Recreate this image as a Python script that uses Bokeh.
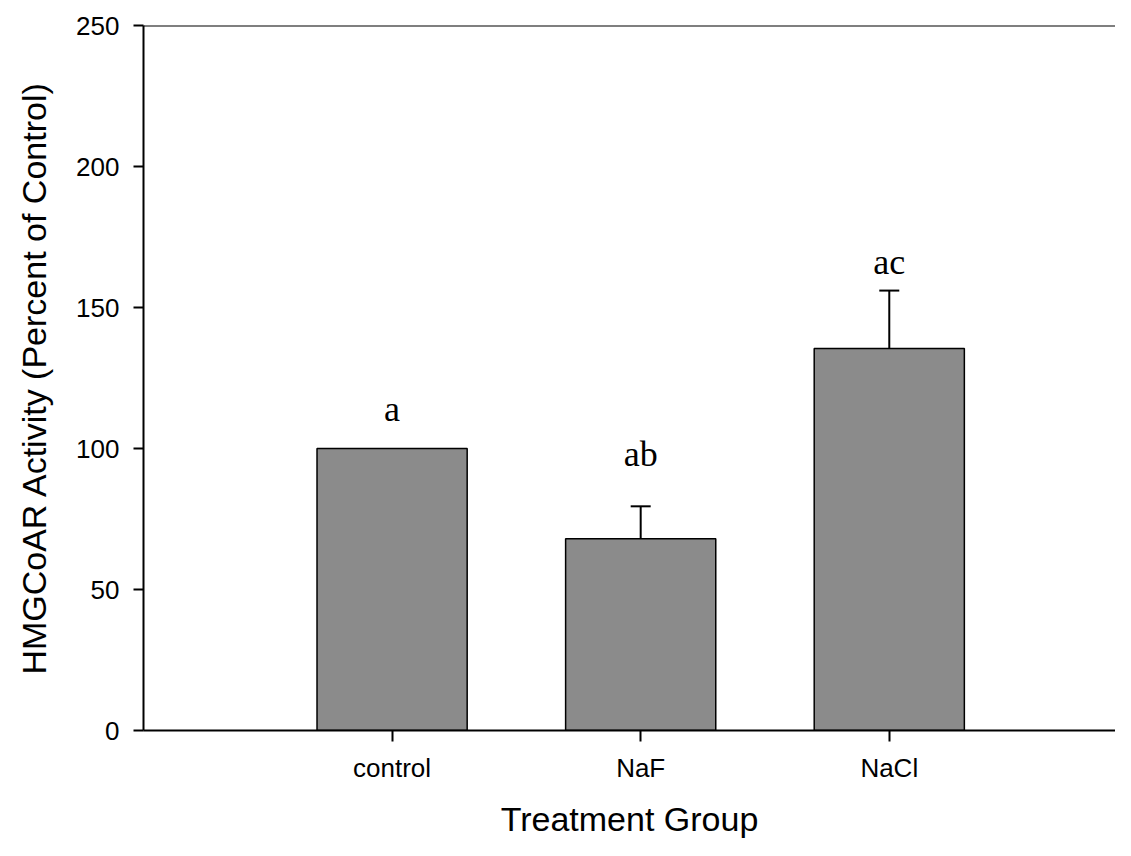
from bokeh.plotting import figure
from bokeh.models import FixedTicker, Span, Whisker, ColumnDataSource, TeeHead
from bokeh.core.properties import value
from bokeh.embed import file_html
from bokeh.resources import INLINE

groups = ["control", "NaF", "NaCl"]
means = [100, 68, 135.5]
errors = [0, 11.5, 20.5]
letters = ["a", "ab", "ac"]
letter_y = [114, 98, 166]
y_ticks = [0, 50, 100, 150, 200, 250]

xs = [1, 2, 3]

p = figure(width=1115, height=840, x_range=(0, 3.91), y_range=(0, 250),
           output_backend="svg", toolbar_location=None,
           min_border_left=143, min_border_right=0, min_border_top=25, min_border_bottom=105)
p.outline_line_color = None
p.xgrid.grid_line_color = None
p.ygrid.grid_line_color = None

p.vbar(x=xs, top=means, bottom=0, width=0.604, fill_color="#8b8b8b",
       line_color="black", line_width=1.5)

err_idx = [i for i, e in enumerate(errors) if e > 0]
src = ColumnDataSource(dict(
    x=[xs[i] for i in err_idx],
    lower=[means[i] for i in err_idx],
    upper=[means[i] + errors[i] for i in err_idx],
))
w = Whisker(base="x", lower="lower", upper="upper", source=src,
            upper_head=TeeHead(size=20, line_width=2, line_color="black"),
            lower_head=None, line_width=2, line_color="black")
p.add_layout(w)

p.text(x=xs, y=letter_y, text=letters, text_font=value("Liberation Serif"),
       text_font_size="36px", text_align="center", text_baseline="middle",
       text_color="black")

p.add_layout(Span(location=250, dimension="width", line_color="black", line_width=2))

# y axis
p.yaxis.ticker = FixedTicker(ticks=y_ticks)
p.yaxis.minor_tick_line_color = None
p.yaxis.major_tick_in = 0
p.yaxis.major_tick_out = 10
p.yaxis.major_tick_line_width = 2
p.yaxis.axis_line_width = 2
p.yaxis.major_label_standoff = 14
p.yaxis.major_label_text_font = "Liberation Sans"
p.yaxis.major_label_text_font_size = "26px"
p.yaxis.major_label_text_color = "black"
p.yaxis.axis_label = "HMGCoAR Activity (Percent of Control)"
p.yaxis.axis_label_text_font = "Liberation Sans"
p.yaxis.axis_label_text_font_size = "34px"
p.yaxis.axis_label_text_font_style = "normal"
p.yaxis.axis_label_text_color = "black"
p.yaxis.axis_label_standoff = 20

# x axis
p.xaxis.ticker = FixedTicker(ticks=xs)
p.xaxis.major_label_overrides = {x: g for x, g in zip(xs, groups)}
p.xaxis.minor_tick_line_color = None
p.xaxis.major_tick_in = 0
p.xaxis.major_tick_out = 11
p.xaxis.major_tick_line_width = 2
p.xaxis.axis_line_width = 2
p.xaxis.major_label_standoff = 11
p.xaxis.major_label_text_font = "Liberation Sans"
p.xaxis.major_label_text_font_size = "26px"
p.xaxis.major_label_text_color = "black"
p.xaxis.axis_label = "Treatment Group"
p.xaxis.axis_label_text_font = "Liberation Sans"
p.xaxis.axis_label_text_font_size = "34px"
p.xaxis.axis_label_text_font_style = "normal"
p.xaxis.axis_label_text_color = "black"
p.xaxis.axis_label_standoff = 14

open("out.html", "w").write(file_html(p, INLINE))
